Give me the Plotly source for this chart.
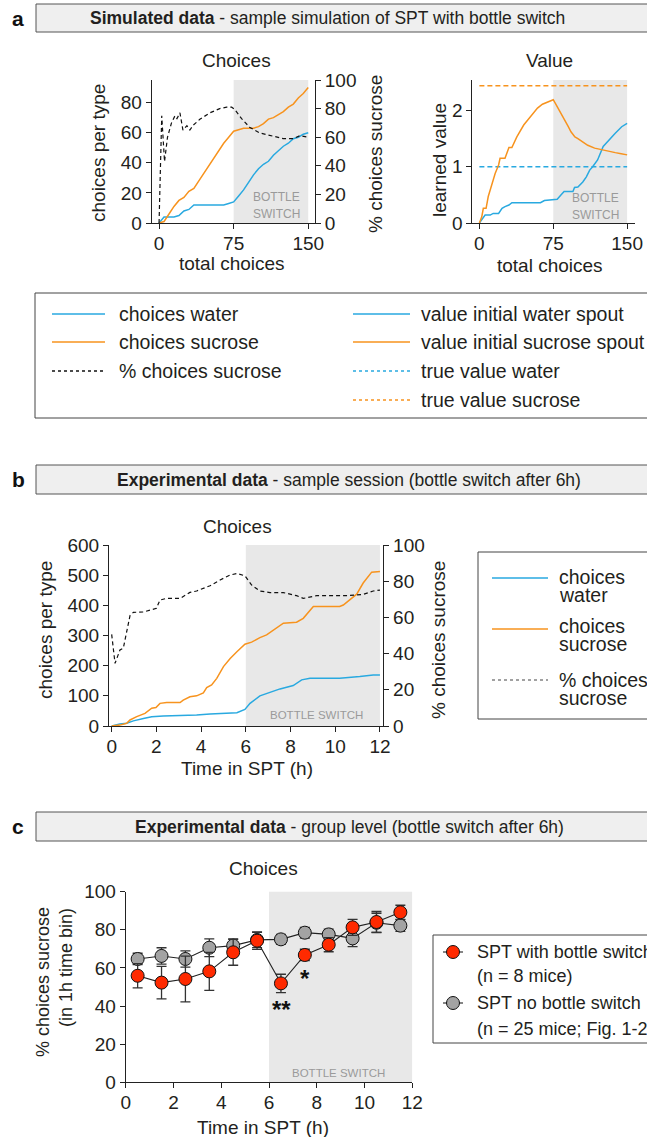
import plotly.graph_objects as go

W, H = 647, 1137
FONT = "Liberation Sans, Arial, sans-serif"
TXT = "#231f20"
BLUE = "#29a9e0"
ORANGE = "#f7931e"
SHADE = "#e8e8e8"
SW_GRAY = "#9a9a9a"

# ---- panel a: simulated session -------------------------------------------
sim_total = [0, 5, 10, 15, 20, 25, 30, 35, 40, 50, 60, 65, 70, 75, 80, 85, 90, 95,
             100, 105, 110, 115, 120, 125, 130, 135, 140, 145, 150]
sim_sucrose = [0, 1, 6, 11, 15, 17, 21, 23, 28, 38, 48, 53, 57, 61, 62, 63, 63, 63,
               64, 66, 69, 70, 72, 74, 77, 79, 83, 86, 90]
sim_water = [0, 4, 4, 4, 5, 8, 9, 12, 12, 12, 12, 12, 13, 14, 18, 22, 27, 32,
             36, 39, 41, 45, 48, 51, 53, 56, 57, 59, 60]
sim_pct_x = [0, 2.7, 5.5, 8.5, 12.5, 16, 18, 21, 24, 28, 31, 34.5, 41, 51, 61, 68,
             73, 76, 83, 91, 101, 115, 125, 135, 141.5, 150]
sim_pct = [0, 75, 43, 60, 70, 75, 73, 77, 65, 68, 65, 68.5, 72.5, 77, 80, 81,
           81, 79.5, 73, 67, 63, 60.4, 59, 59, 61, 60]

val_suc_x = [0, 2.4, 4, 6.8, 9, 12.7, 16, 19.5, 21, 26, 30, 33, 38, 45, 52, 59, 64,
             69, 75, 78, 82, 86, 90, 93, 97, 100, 105, 110, 117, 124, 131, 138, 144, 150]
val_suc = [0, 0.11, 0.26, 0.26, 0.47, 0.70, 0.88, 1.03, 1.15, 1.15, 1.34, 1.34, 1.53,
           1.74, 1.89, 2.04, 2.11, 2.15, 2.19, 2.10, 1.98, 1.86, 1.72, 1.62, 1.53,
           1.50, 1.44, 1.38, 1.33, 1.30, 1.27, 1.25, 1.23, 1.21]
val_wat_x = [0, 2.4, 5.8, 11, 14, 19.5, 23, 26, 30, 33, 42, 62, 66, 75, 79, 83, 86,
             95, 96.6, 100, 105, 108.6, 112, 115, 120, 125.7, 131, 137.7, 144.5, 150]
val_wat = [0, 0.05, 0.14, 0.14, 0.17, 0.17, 0.26, 0.29, 0.32, 0.36, 0.36, 0.36, 0.40,
           0.42, 0.42, 0.50, 0.56, 0.56, 0.63, 0.64, 0.73, 0.82, 0.94, 1.0, 1.12,
           1.36, 1.47, 1.59, 1.71, 1.77]
true_value_water = 1.0
true_value_sucrose = 2.44
switch_choice = 75
last_choice = 150

# ---- panel b: one experimental session --------------------------------------
b_x_suc = [0, .37, .67, .82, 1.12, 1.49, 1.79, 1.98, 2.16, 2.46, 3.06, 3.2, 3.5, 3.8,
           4.1, 4.25, 4.47, 4.7, 5.0, 5.3, 5.6, 5.96, 6.26, 6.63, 6.93, 7.38, 7.68,
           8.27, 8.57, 9.02, 10.2, 10.36, 10.96, 11.25, 11.63, 12]
b_suc = [0, 3, 9, 20, 31, 42, 59, 61, 75, 78, 78, 86, 97, 100, 110, 127, 136, 158,
         197, 224, 246, 271, 278, 293, 302, 326, 341, 344, 357, 396, 396, 401, 437,
         474, 510, 512]
b_x_wat = [0, .37, .67, .97, 1.42, 1.79, 2.31, 3.06, 3.8, 4.4, 5.3, 5.6, 5.96, 6.19,
           6.63, 7.08, 7.53, 8.12, 8.5, 8.87, 10.2, 11.1, 11.7, 12]
b_wat = [0, 7, 9, 17, 25, 31, 33, 34, 36.5, 40, 43, 44, 55, 75, 100, 112, 123, 134,
         153, 158, 158, 164, 169, 169]
b_x_pct = [0, .15, .37, .52, .82, .97, 1.42, 1.71, 2.0, 2.16, 2.46, 3.06, 3.5, 3.8,
           4.4, 4.85, 5.3, 5.6, 5.96, 6.26, 6.63, 7.08, 7.68, 8.27, 8.57, 9.17, 10.5,
           11.25, 11.7, 12]
b_pct = [50.6, 34.6, 42, 43, 61, 62.8, 63, 64, 65, 69.6, 70.5, 70.5, 73.8, 74.6,
         77.5, 80.7, 83.4, 84.3, 83, 77.9, 74.6, 73.7, 73.7, 72, 70.5, 72, 72, 72.7,
         74.6, 75.1]
switch_hour = 6
end_hour = 12

# ---- panel c: group level ----------------------------------------------------
hours = [0.5, 1.5, 2.5, 3.5, 4.5, 5.5, 6.5, 7.5, 8.5, 9.5, 10.5, 11.5]
switch_mean = [55.9, 52.3, 54.2, 58.2, 68.2, 74.3, 51.9, 66.8, 72.2, 81.3, 84.1, 89.2]
switch_sem = [6.4, 8.5, 12, 10, 6.8, 4.6, 4.8, 3, 3.7, 4.2, 5.5, 3.7]
noswitch_mean = [64.7, 66.3, 64.7, 70.6, 71.7, 74.7, 75, 78.5, 77.6, 75.5, 83.7, 82.2]
noswitch_sem = [3, 4.3, 4.3, 4.7, 3.5, 4, 2.6, 2.8, 2.8, 4.3, 5, 3]


def px(x):
    return x / W


def py(y):
    return 1 - y / H


fig = go.Figure()


def line(x, y, color, xa, ya, dash="solid", width=1.5):
    fig.add_trace(go.Scatter(x=x, y=y, mode="lines", xaxis=xa, yaxis=ya,
                             line=dict(color=color, width=width, dash=dash),
                             showlegend=False, hoverinfo="skip", cliponaxis=False))


# panel a, choices
line(sim_total, sim_water, BLUE, "x", "y")
line(sim_total, sim_sucrose, ORANGE, "x", "y")
line(sim_pct_x, sim_pct, "#111", "x", "y2", dash="4px,3px", width=1.2)
# panel a, value
line([0, last_choice], [true_value_sucrose] * 2, ORANGE, "x2", "y3", dash="5px,3px")
line([0, last_choice], [true_value_water] * 2, BLUE, "x2", "y3", dash="5px,3px")
line(val_wat_x, val_wat, BLUE, "x2", "y3")
line(val_suc_x, val_suc, ORANGE, "x2", "y3")
# panel b
line(b_x_wat, b_wat, BLUE, "x3", "y4")
line(b_x_suc, b_suc, ORANGE, "x3", "y4")
line(b_x_pct, b_pct, "#111", "x3", "y5", dash="4px,3px", width=1.2)
# panel c
for mean, sem, fill in [(noswitch_mean, noswitch_sem, "#a3a3a3"),
                        (switch_mean, switch_sem, "#ff2a00")]:
    fig.add_trace(go.Scatter(
        x=hours, y=mean, mode="lines+markers", xaxis="x4", yaxis="y6",
        line=dict(color="#222", width=1.1),
        marker=dict(size=13, color=fill, line=dict(color="#111", width=1)),
        error_y=dict(type="data", array=sem, visible=True, color="#333",
                     thickness=1.3, width=5),
        showlegend=False, hoverinfo="skip", cliponaxis=False))


def xax(dom, anchor, rng, ticks):
    return dict(domain=dom, anchor=anchor, range=rng, tickvals=ticks,
                showline=True, linecolor="#222", linewidth=1, ticks="outside",
                ticklen=5, tickcolor="#222", showgrid=False, zeroline=False,
                ticklabelstandoff=-2,
                tickfont=dict(size=19, color=TXT), automargin=False)


def yax(dom, anchor, rng, ticks, side="left", overlaying=None):
    d = dict(domain=dom, anchor=anchor, range=rng, tickvals=ticks, side=side,
             showline=True, linecolor="#222", linewidth=1, ticks="outside",
             ticklen=5, tickcolor="#222", showgrid=False, zeroline=False,
             tickfont=dict(size=19, color=TXT), automargin=False)
    if overlaying:
        d["overlaying"] = overlaying
    return d


a_ydom = [py(223), py(80)]
b_ydom = [py(726), py(545)]
c_ydom = [py(1082.3), py(891.7)]

fig.update_layout(
    width=W, height=H, margin=dict(l=0, r=0, t=0, b=0), autosize=False,
    paper_bgcolor="white", plot_bgcolor="rgba(0,0,0,0)",
    font=dict(family=FONT, color=TXT),
    xaxis=xax([px(151.7), px(315)], "y", [-7.4, 156.8], [0, 75, 150]),
    yaxis=yax(a_ydom, "x", [0, 95], [0, 20, 40, 60, 80]),
    yaxis2=yax(a_ydom, "x", [0, 100], [0, 20, 40, 60, 80, 100], "right", "y"),
    xaxis2=xax([px(472.3), px(635)], "y3", [-7.2, 158], [0, 75, 150]),
    yaxis3=yax(a_ydom, "x2", [0, 2.54], [0, 1, 2]),
    xaxis3=xax([px(109), px(383.3)], "y4", [-0.12, 12.15], list(range(0, 13, 2))),
    yaxis4=yax(b_ydom, "x3", [0, 600], list(range(0, 601, 100))),
    yaxis5=yax(b_ydom, "x3", [0, 100], list(range(0, 101, 20)), "right", "y4"),
    xaxis4=xax([px(125.7), px(412.3)], "y6", [0, 12], list(range(0, 13, 2))),
    yaxis6=yax(c_ydom, "x4", [0, 100], list(range(0, 101, 20))),
)

shapes = []
annotations = []


def note(text, x, y, size, color=TXT, angle=0, xa="center", ya="middle"):
    annotations.append(dict(text=text, x=px(x), y=py(y), xref="paper", yref="paper",
                            xanchor=xa, yanchor=ya, showarrow=False, textangle=angle,
                            font=dict(size=size, color=color, family=FONT)))


def pline(x0, x1, y, color, dash="solid", width=1.5):
    shapes.append(dict(type="line", xref="paper", yref="paper", x0=px(x0), x1=px(x1),
                       y0=py(y), y1=py(y), line=dict(color=color, width=width, dash=dash)))


def pbox(x0, y0, x1, y1, fill="rgba(0,0,0,0)", color="#444"):
    shapes.append(dict(type="rect", xref="paper", yref="paper", x0=px(x0), x1=px(x1),
                       y0=py(y1), y1=py(y0), fillcolor=fill, line=dict(color=color, width=1)))


# bottle-switch shading
for xa, ya, x0, x1 in [("x", "y", switch_choice, last_choice),
                       ("x2", "y3", switch_choice, last_choice),
                       ("x3", "y4", switch_hour, end_hour),
                       ("x4", "y6", switch_hour, end_hour)]:
    shapes.append(dict(type="rect", xref=xa, yref=ya + " domain", x0=x0, x1=x1,
                       y0=0, y1=1, fillcolor=SHADE, line=dict(width=0), layer="below"))

# section headers
for letter, top, bot, tx, text in [
        ("a", 4, 32, 88, "<b>Simulated data</b> - sample simulation of SPT with bottle switch"),
        ("b", 465, 494, 115, "<b>Experimental data</b> - sample session (bottle switch after 6h)"),
        ("c", 812, 841, 133, "<b>Experimental data</b> - group level (bottle switch after 6h)")]:
    pbox(36, top, 660, bot, fill="#efefef", color="#555")
    note(f"<b>{letter}</b>", 18, (top + bot) / 2, 21, color="#111")
    note(text, tx, (top + bot) / 2, 17.5, xa="left")

# panel a titles and axis labels
note("Choices", 236, 61, 19)
note("Value", 549, 61, 19)
note("choices per type", 98, 153, 19, angle=-90)
note("% choices sucrose", 375, 154, 19, angle=-90)
note("total choices", 232, 263, 19)
note("learned value", 440, 160, 19, angle=-90)
note("total choices", 550, 266, 19)
note("BOTTLE", 276, 197, 12, SW_GRAY)
note("SWITCH", 276, 214, 12, SW_GRAY)
note("BOTTLE", 595, 198, 12, SW_GRAY)
note("SWITCH", 595, 215, 12, SW_GRAY)

# panel a legend
pbox(35, 293, 660, 418)
rows = [314, 342, 371, 400]
for (txt, col, dash), y in zip([("choices water", BLUE, "solid"),
                                ("choices sucrose", ORANGE, "solid"),
                                ("% choices sucrose", "#111", "3px,3px")], rows):
    pline(52, 105, y, col, dash, 1.3 if dash != "solid" else 1.5)
    note(txt, 117, y, 19.5, xa="left")
for (txt, col, dash), y in zip([("value initial water spout", BLUE, "solid"),
                                ("value initial sucrose spout", ORANGE, "solid"),
                                ("true value water", BLUE, "3px,3px"),
                                ("true value sucrose", ORANGE, "3px,3px")], rows):
    pline(353, 410, y, col, dash, 1.3 if dash != "solid" else 1.5)
    note(txt, 419, y, 19.5, xa="left")

# panel b titles and labels
note("Choices", 237, 526, 19)
note("choices per type", 45, 630, 19, angle=-90)
note("% choices sucrose", 438, 640, 19, angle=-90)
note("Time in SPT (h)", 247, 768, 19)
note("BOTTLE SWITCH", 316, 715, 11.5, SW_GRAY)

# panel b legend
pbox(478, 552, 660, 719)
for l1, l2, col, dash, ly, c1, c2 in [
        ("choices", "water", BLUE, "solid", 578, 577, 595),
        ("choices", "sucrose", ORANGE, "solid", 629, 626, 644),
        ("% choices", "sucrose", "#444", "3px,3px", 680, 680, 697.5)]:
    pline(492, 548, ly, col, dash, 1.5 if dash == "solid" else 1.2)
    note(l1, 557, c1, 19.5, xa="left")
    note(l2, 557, c2, 19.5, xa="left")

# panel c titles and labels
note("Choices", 263, 868, 19)
note("% choices sucrose", 43, 982, 18, angle=-90)
note("(in 1h time bin)", 66, 968, 18, angle=-90)
note("Time in SPT (h)", 263, 1127, 19)
note("BOTTLE SWITCH", 338, 1073, 11.5, SW_GRAY)
note("<b>**</b>", 281, 1009, 24, color="#111")
note("<b>*</b>", 305, 978, 24, color="#111")

# panel c legend
pbox(433, 935, 660, 1043)
for fill, y, l1, l2, y2 in [("#ff2a00", 952, "SPT with bottle switch", "(n = 8 mice)", 976),
                            ("#a3a3a3", 1003, "SPT no bottle switch", "(n = 25 mice; Fig. 1-2)", 1029)]:
    pline(443, 463, y, "#222", width=1.1)
    r = 6.5
    shapes.append(dict(type="circle", xref="paper", yref="paper",
                       x0=px(453 - r), x1=px(453 + r), y0=py(y + r), y1=py(y - r),
                       fillcolor=fill, line=dict(color="#111", width=1)))
    note(l1, 475, y, 18, xa="left")
    note(l2, 475, y2, 18, xa="left")

fig.update_layout(shapes=shapes, annotations=annotations)
fig.write_html("out.html")
